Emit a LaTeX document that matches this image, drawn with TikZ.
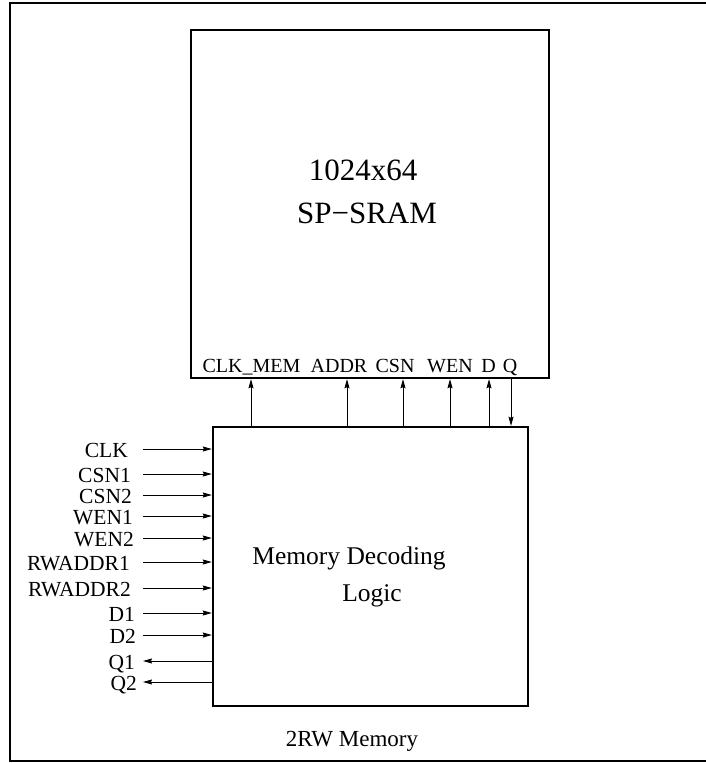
\documentclass[tikz,border=0pt]{standalone}
\usepackage{fontspec}
\setmainfont{Liberation Serif}
\usetikzlibrary{arrows.meta, positioning}

\begin{document}
\begin{tikzpicture}[x=1pt, y=-1pt,
    blk/.style={draw, line width=2.4pt, inner sep=0pt},
    pinlbl/.style={anchor=base, inner sep=0pt, font=\fontsize{20}{24}\selectfont},
    siglbl/.style={anchor=base east, inner sep=0pt, font=\fontsize{21.5}{25}\selectfont},
    wire/.style={-{Stealth[length=9pt,width=5pt,inset=1pt]}, line width=0.8pt}]
  \clip (0,0) rectangle (706,763);
  \draw[line width=1.6pt] (10,3) rectangle (720,761);

  % memory macro and decoder
  \node[blk, minimum width=358pt, minimum height=348pt] (sram) at (370,204) {};
  \node[blk, minimum width=315pt, minimum height=279pt] (dec) at (370.5,566.5) {};
  \node[anchor=base, font=\fontsize{31}{36}\selectfont] (size) at (363,180) {1024x64};
  \node[anchor=base, font=\fontsize{31}{36}\selectfont] (kind) at (367,223) {SP−SRAM};
  \node[anchor=base, font=\fontsize{25.5}{30}\selectfont] (declbl) at (349,564) {Memory Decoding};
  \node[anchor=base, font=\fontsize{25.5}{30}\selectfont] (loglbl) at (372,601) {Logic};
  \node[anchor=base, font=\fontsize{23}{27}\selectfont] (title) at (352,746) {2RW Memory};

  % sram pins
  \node[pinlbl] (clkmem) at (251.5,372) {CLK\_MEM};
  \node[pinlbl] (addr) at (339,372) {ADDR};
  \node[pinlbl] (csn) at (395,372) {CSN};
  \node[pinlbl] (wen) at (450,372) {WEN};
  \node[pinlbl] (din) at (488.5,372) {D};
  \node[pinlbl] (qout) at (510,372) {Q};
  \coordinate (clkmem-pin) at (251,400);
  \coordinate (addr-pin) at (347,400);
  \coordinate (csn-pin) at (403,400);
  \coordinate (wen-pin) at (450,400);
  \coordinate (din-pin) at (489,400);
  \coordinate (qout-pin) at (511,400);
  \draw[wire] (clkmem-pin |- dec.north) -- (clkmem-pin |- sram.south);
  \draw[wire] (addr-pin |- dec.north) -- (addr-pin |- sram.south);
  \draw[wire] (csn-pin |- dec.north) -- (csn-pin |- sram.south);
  \draw[wire] (wen-pin |- dec.north) -- (wen-pin |- sram.south);
  \draw[wire] (din-pin |- dec.north) -- (din-pin |- sram.south);
  \draw[wire] (qout-pin |- sram.south) -- (qout-pin |- dec.north);

  % port signals
  \node[siglbl] (clk) at (128,457) {CLK};
  \node[siglbl] (csna) at (131,482) {CSN1};
  \node[siglbl] (csnb) at (132,503) {CSN2};
  \node[siglbl] (wena) at (133,524) {WEN1};
  \node[siglbl] (wenb) at (134,546) {WEN2};
  \node[siglbl] (addra) at (130,570) {RWADDR1};
  \node[siglbl] (addrb) at (131,596) {RWADDR2};
  \node[siglbl] (da) at (135,621) {D1};
  \node[siglbl] (db) at (136,643) {D2};
  \node[siglbl] (qa) at (135,669) {Q1};
  \node[siglbl] (qb) at (137,690) {Q2};
  \coordinate (clk-in) at (143,449);
  \coordinate (csna-in) at (143,474);
  \coordinate (csnb-in) at (143,495);
  \coordinate (wena-in) at (143,516);
  \coordinate (wenb-in) at (143,538);
  \coordinate (addra-in) at (143,562);
  \coordinate (addrb-in) at (143,588);
  \coordinate (da-in) at (143,613);
  \coordinate (db-in) at (143,635);
  \coordinate (qa-out) at (143,661);
  \coordinate (qb-out) at (143,682);
  \draw[wire] (clk-in) -- (clk-in -| dec.west);
  \draw[wire] (csna-in) -- (csna-in -| dec.west);
  \draw[wire] (csnb-in) -- (csnb-in -| dec.west);
  \draw[wire] (wena-in) -- (wena-in -| dec.west);
  \draw[wire] (wenb-in) -- (wenb-in -| dec.west);
  \draw[wire] (addra-in) -- (addra-in -| dec.west);
  \draw[wire] (addrb-in) -- (addrb-in -| dec.west);
  \draw[wire] (da-in) -- (da-in -| dec.west);
  \draw[wire] (db-in) -- (db-in -| dec.west);
  \draw[wire] (qa-out -| dec.west) -- (qa-out);
  \draw[wire] (qb-out -| dec.west) -- (qb-out);
\end{tikzpicture}
\end{document}
